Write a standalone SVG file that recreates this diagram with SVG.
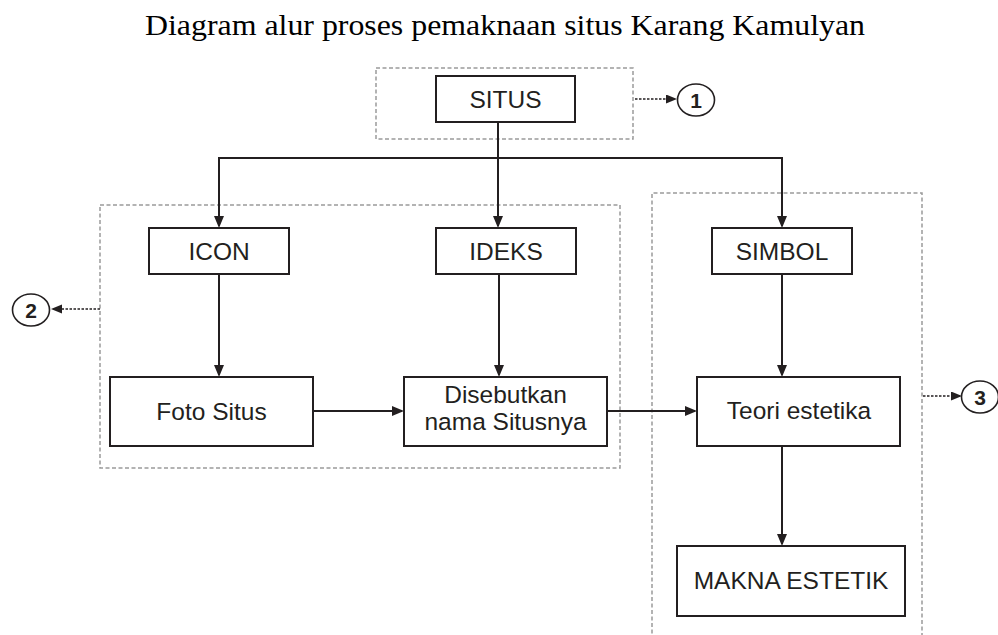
<svg xmlns="http://www.w3.org/2000/svg" width="998" height="635" viewBox="0 0 998 635">
  <defs>
    <style>
      .node rect { fill: #ffffff; stroke: #231f20; stroke-width: 2; }
      .label { font-family: "Liberation Sans", Arial, sans-serif; font-size: 24.5px; fill: #231f20; text-anchor: middle; }
      .title { font-family: "Liberation Serif", "Times New Roman", serif; font-size: 29px; fill: #000000; }
      .group { fill: none; stroke: #9a9a9a; stroke-width: 1.5; stroke-dasharray: 4 2.5; }
      .flow { fill: none; stroke: #231f20; stroke-width: 2; }
      .ref { fill: none; stroke: #231f20; stroke-width: 1.7; stroke-dasharray: 2.5 1.5; }
      .badge ellipse { fill: #ffffff; stroke: #231f20; stroke-width: 1.6; }
      .badge text { font-family: "Liberation Sans", Arial, sans-serif; font-size: 21px; font-weight: bold; fill: #231f20; text-anchor: middle; }
    </style>
    <marker id="arrow" markerUnits="userSpaceOnUse" markerWidth="14" markerHeight="12" refX="10" refY="5" orient="auto">
      <path d="M0,0 L12,5 L0,10 z" fill="#231f20"/>
    </marker>
    <marker id="arrowSmall" markerUnits="userSpaceOnUse" markerWidth="12" markerHeight="10" refX="9" refY="4.5" orient="auto">
      <path d="M0,0 L11,4.5 L0,9 z" fill="#231f20"/>
    </marker>
  </defs>

  <rect width="998" height="635" fill="#ffffff"/>

  <text class="title" x="145" y="35" textLength="720" lengthAdjust="spacingAndGlyphs">Diagram alur proses pemaknaan situs Karang Kamulyan</text>

  <!-- dashed grouping frames -->
  <g id="frames">
    <rect class="group" x="376" y="68" width="257" height="71"/>
    <rect class="group" x="100" y="205" width="520" height="263"/>
    <path class="group" d="M652,640 L652,193 L922,193 L922,640"/>
  </g>

  <!-- connectors -->
  <g id="connectors">
    <path class="flow" d="M498,122 L498,226" marker-end="url(#arrow)"/>
    <path class="flow" d="M219,226 L219,158 L782,158 L782,226" marker-end="url(#arrow)"/>
    <path class="flow" d="M219,175 L219,226" marker-end="url(#arrow)"/>
    <path class="flow" d="M219,274 L219,375" marker-end="url(#arrow)"/>
    <path class="flow" d="M499,274 L499,375" marker-end="url(#arrow)"/>
    <path class="flow" d="M782,274 L782,375" marker-end="url(#arrow)"/>
    <path class="flow" d="M782,446 L782,544" marker-end="url(#arrow)"/>
    <path class="flow" d="M313,411 L402,411" marker-end="url(#arrow)"/>
    <path class="flow" d="M607,411 L695,411" marker-end="url(#arrow)"/>
    <!-- dotted references to the numbered notes -->
    <path class="ref" d="M635,99 L675,99" marker-end="url(#arrowSmall)"/>
    <path class="ref" d="M100,309 L53,309" marker-end="url(#arrowSmall)"/>
    <path class="ref" d="M923,396 L960,396" marker-end="url(#arrowSmall)"/>
  </g>

  <!-- nodes -->
  <g id="situs" class="node">
    <rect x="436" y="76" width="139" height="46"/>
    <text class="label" x="505.5" y="108">SITUS</text>
  </g>
  <g id="icon" class="node">
    <rect x="149" y="228" width="140" height="46"/>
    <text class="label" x="219" y="260">ICON</text>
  </g>
  <g id="ideks" class="node">
    <rect x="436" y="228" width="140" height="46"/>
    <text class="label" x="506" y="260">IDEKS</text>
  </g>
  <g id="simbol" class="node">
    <rect x="712" y="228" width="140" height="46"/>
    <text class="label" x="782" y="260">SIMBOL</text>
  </g>
  <g id="foto-situs" class="node">
    <rect x="110" y="377" width="203" height="69"/>
    <text class="label" x="211.5" y="420">Foto Situs</text>
  </g>
  <g id="disebutkan" class="node">
    <rect x="404" y="377" width="203" height="69"/>
    <text class="label" x="505.5" y="403">Disebutkan</text>
    <text class="label" x="505.5" y="430">nama Situsnya</text>
  </g>
  <g id="teori-estetika" class="node">
    <rect x="697" y="377" width="203" height="69"/>
    <text class="label" x="799" y="419">Teori estetika</text>
  </g>
  <g id="makna-estetik" class="node">
    <rect x="677" y="546" width="228" height="70"/>
    <text class="label" x="791" y="589">MAKNA ESTETIK</text>
  </g>

  <!-- numbered notes -->
  <g id="note-1" class="badge">
    <ellipse cx="696" cy="100" rx="18.5" ry="16"/>
    <text x="696" y="107.5">1</text>
  </g>
  <g id="note-2" class="badge">
    <ellipse cx="31" cy="310" rx="18.5" ry="16"/>
    <text x="31" y="317.5">2</text>
  </g>
  <g id="note-3" class="badge">
    <ellipse cx="980" cy="397" rx="18.5" ry="16"/>
    <text x="980" y="404.5">3</text>
  </g>
</svg>
